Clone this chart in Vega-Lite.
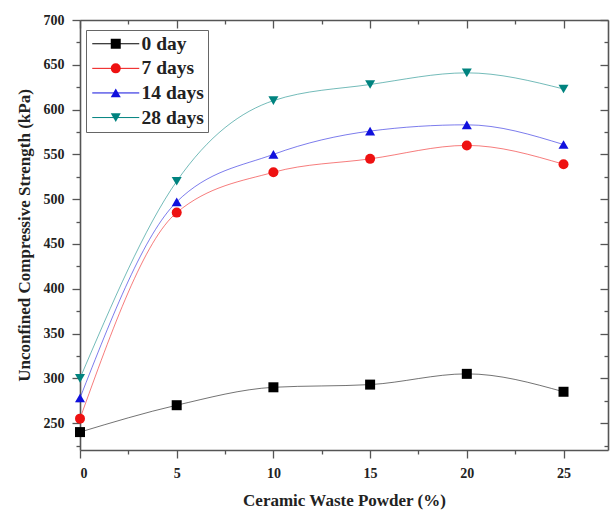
{
  "$schema": "https://vega.github.io/schema/vega-lite/v6.json",
  "autosize": "none",
  "padding": {"left": 80, "top": 20, "right": 2, "bottom": 63},
  "width": 528,
  "height": 430,
  "background": "white",
  "config": {
    "view": {"stroke": null},
    "font": "Liberation Serif",
    "axis": {
      "labelFont": "Liberation Serif",
      "labelFontWeight": "bold",
      "labelFontSize": 14,
      "labelColor": "#222",
      "titleFont": "Liberation Serif",
      "titleFontWeight": "bold",
      "titleFontSize": 17,
      "titleColor": "#222",
      "domainColor": "#555",
      "domainWidth": 1.6,
      "tickColor": "#555",
      "tickWidth": 1.3,
      "grid": false
    },
    "legend": {
      "title": null,
      "orient": "none",
      "legendX": 6,
      "legendY": 10,
      "padding": 4,
      "labelFont": "Liberation Serif",
      "labelFontWeight": "bold",
      "labelFontSize": 19.5,
      "labelColor": "#222",
      "symbolSize": 100,
      "symbolOffset": 16,
      "labelOffset": 16,
      "rowPadding": 3.6
    }
  },
  "data": {
    "values": [
      {"pct": 0, "strength": 240, "series": "0 day"},
      {"pct": 5, "strength": 270, "series": "0 day"},
      {"pct": 10, "strength": 290, "series": "0 day"},
      {"pct": 15, "strength": 293, "series": "0 day"},
      {"pct": 20, "strength": 305, "series": "0 day"},
      {"pct": 25, "strength": 285, "series": "0 day"},
      {"pct": 0, "strength": 255, "series": "7 days"},
      {"pct": 5, "strength": 485, "series": "7 days"},
      {"pct": 10, "strength": 530, "series": "7 days"},
      {"pct": 15, "strength": 545, "series": "7 days"},
      {"pct": 20, "strength": 560, "series": "7 days"},
      {"pct": 25, "strength": 539, "series": "7 days"},
      {"pct": 0, "strength": 278, "series": "14 days"},
      {"pct": 5, "strength": 497, "series": "14 days"},
      {"pct": 10, "strength": 550, "series": "14 days"},
      {"pct": 15, "strength": 576, "series": "14 days"},
      {"pct": 20, "strength": 583, "series": "14 days"},
      {"pct": 25, "strength": 561, "series": "14 days"},
      {"pct": 0, "strength": 300, "series": "28 days"},
      {"pct": 5, "strength": 520, "series": "28 days"},
      {"pct": 10, "strength": 610, "series": "28 days"},
      {"pct": 15, "strength": 628, "series": "28 days"},
      {"pct": 20, "strength": 641, "series": "28 days"},
      {"pct": 25, "strength": 623, "series": "28 days"}
    ]
  },
  "resolve": {
    "axis": {"x": "independent", "y": "independent"},
    "legend": {"color": "independent"}
  },
  "layer": [
    {
      "mark": {"type": "line", "interpolate": "monotone", "strokeWidth": 1, "strokeOpacity": 0.55, "clip": false},
      "encoding": {
        "x": {
          "field": "pct", "type": "quantitative",
          "scale": {"domain": [0, 27.3], "nice": false, "zero": false},
          "axis": {
            "orient": "bottom",
            "title": "Ceramic Waste Powder (%)",
            "values": [0, 2.5, 5, 7.5, 10, 12.5, 15, 17.5, 20, 22.5, 25],
            "tickSize": {"condition": {"test": "datum.value % 5 === 0", "value": 8}, "value": 4},
            "labelExpr": "datum.value % 5 === 0 ? datum.label : ''",
            "labelPadding": 8,
            "titlePadding": 12
          }
        },
        "y": {
          "field": "strength", "type": "quantitative",
          "scale": {"domain": [220, 700], "nice": false, "zero": false},
          "axis": {
            "orient": "left",
            "title": "Unconfined Compressive Strength (kPa)",
            "values": [225, 250, 275, 300, 325, 350, 375, 400, 425, 450, 475, 500, 525, 550, 575, 600, 625, 650, 675, 700],
            "tickSize": {"condition": {"test": "datum.value % 50 === 0", "value": 8}, "value": 4},
            "labelExpr": "datum.value % 50 === 0 ? datum.label : ''",
            "labelPadding": 8,
            "titlePadding": 10
          }
        },
        "color": {
          "field": "series", "type": "nominal",
          "scale": {"domain": ["0 day", "7 days", "14 days", "28 days"], "range": ["#000000", "#ee1111", "#1010dd", "#00837f"]},
          "legend": {
            "symbolType": "M-4.7,0H4.7",
            "symbolStrokeWidth": 1,
            "labelOpacity": 0,
            "strokeColor": "#666",
            "fillColor": "white",
            "zindex": 0
          }
        },
        "detail": {"field": "series"}
      }
    },
    {
      "mark": {"type": "point", "filled": true, "opacity": 1, "size": 100, "clip": false},
      "encoding": {
        "x": {
          "field": "pct", "type": "quantitative",
          "axis": {
            "orient": "top", "title": null, "labels": false,
            "values": [0, 2.5, 5, 7.5, 10, 12.5, 15, 17.5, 20, 22.5, 25],
            "tickSize": {"condition": {"test": "datum.value % 5 === 0", "value": -8}, "value": -4}
          }
        },
        "y": {
          "field": "strength", "type": "quantitative",
          "axis": {
            "orient": "right", "title": null, "labels": false,
            "values": [225, 250, 275, 300, 325, 350, 375, 400, 425, 450, 475, 500, 525, 550, 575, 600, 625, 650, 675, 700],
            "tickSize": {"condition": {"test": "datum.value % 50 === 0", "value": -8}, "value": -4}
          }
        },
        "color": {
          "field": "series", "type": "nominal",
          "legend": {
            "zindex": 1,
            "symbolType": {"expr": "datum.value === '0 day' ? 'square' : datum.value === '7 days' ? 'circle' : datum.value === '14 days' ? 'triangle-up' : 'triangle-down'"}
          }
        },
        "shape": {
          "field": "series", "type": "nominal",
          "scale": {"domain": ["0 day", "7 days", "14 days", "28 days"], "range": ["square", "circle", "triangle-up", "triangle-down"]},
          "legend": null
        }
      }
    }
  ]
}
